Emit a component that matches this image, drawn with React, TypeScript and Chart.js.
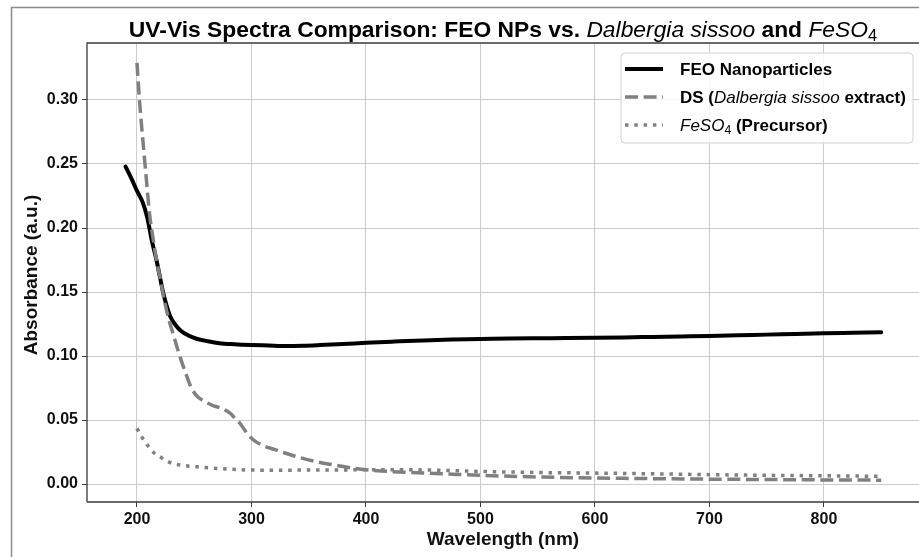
import React, { useEffect, useRef } from "react";
import { Chart, registerables } from "chart.js";

Chart.register(...registerables);

const W = 919;
const H = 557;
const FONT = '"Liberation Sans", Arial, Helvetica, sans-serif';

// ---- data ----
const feoWavelength = [190, 195, 200, 205, 209, 213, 217, 220, 223, 226, 229, 233, 238, 245, 252, 262, 272, 285, 300, 315, 330, 345, 360, 380, 400, 425, 450, 475, 500, 525, 550, 575, 600, 625, 650, 675, 700, 725, 750, 775, 800, 825, 850];
const feoAbsorbance = [0.248, 0.239, 0.229, 0.22, 0.208, 0.19, 0.175, 0.162, 0.149, 0.139, 0.131, 0.125, 0.12, 0.116, 0.1135, 0.1115, 0.110, 0.1092, 0.1086, 0.1082, 0.1078, 0.108, 0.1085, 0.1093, 0.1103, 0.1113, 0.1122, 0.1128, 0.1132, 0.1137, 0.1139, 0.114, 0.1142, 0.1145, 0.1149, 0.1153, 0.1157, 0.1162, 0.1167, 0.1172, 0.1177, 0.1181, 0.1185];

const dsWavelength = [200, 202, 204, 206, 208, 211, 214, 217, 220, 224, 228, 232, 237, 242, 247, 252, 258, 266, 274, 281, 286, 290, 295, 301, 310, 320, 330, 345, 360, 375, 390, 405, 420, 440, 460, 480, 500, 520, 550, 600, 650, 700, 750, 800, 850];
const dsAbsorbance = [0.329, 0.302, 0.28, 0.26, 0.24, 0.211, 0.192, 0.175, 0.162, 0.143, 0.128, 0.116, 0.101, 0.088, 0.076, 0.069, 0.065, 0.0615, 0.059, 0.0555, 0.051, 0.0474, 0.041, 0.035, 0.030, 0.027, 0.024, 0.020, 0.0168, 0.0145, 0.0122, 0.0108, 0.0098, 0.009, 0.0083, 0.0075, 0.0068, 0.0062, 0.0055, 0.0047, 0.0042, 0.0038, 0.0035, 0.0032, 0.003];

const feso4Wavelength = [200, 204, 208, 212, 216, 220, 226, 232, 240, 252, 270, 295, 320, 350, 380, 400, 430, 460, 500, 550, 600, 650, 700, 750, 800, 850];
const feso4Absorbance = [0.0435, 0.037, 0.0318, 0.027, 0.0235, 0.0213, 0.018, 0.0158, 0.0145, 0.0135, 0.0122, 0.011, 0.0108, 0.0109, 0.011, 0.0112, 0.0112, 0.0108, 0.0098, 0.009, 0.0085, 0.008, 0.0073, 0.0068, 0.0064, 0.006];

const xTicks = [200, 300, 400, 500, 600, 700, 800];
const yTicks = [0, 0.05, 0.1, 0.15, 0.2, 0.25, 0.3];

const seriesLabels = ["FEO Nanoparticles", "DS (Dalbergia sissoo extract)", "FeSO4 (Precursor)"];

type Seg = { text: string; style: string; sub?: boolean };

const titleSegs: Seg[] = [
  { text: "UV-Vis Spectra Comparison: FEO NPs vs. ", style: "bold" },
  { text: "Dalbergia sissoo", style: "italic" },
  { text: " and ", style: "bold" },
  { text: "FeSO", style: "italic" },
  { text: "4", style: "normal", sub: true },
];

const legendSegs: Seg[][] = [
  [{ text: "FEO Nanoparticles", style: "bold" }],
  [
    { text: "DS (", style: "bold" },
    { text: "Dalbergia sissoo", style: "italic" },
    { text: " extract)", style: "bold" },
  ],
  [
    { text: "FeSO", style: "italic" },
    { text: "4", style: "normal", sub: true },
    { text: " (Precursor)", style: "bold" },
  ],
];

function fontFor(seg: Seg, size: number) {
  const s = seg.sub ? size * 0.72 : size;
  return `${seg.style} ${s}px ${FONT}`;
}

function measureSegs(ctx: CanvasRenderingContext2D, segs: Seg[], size: number) {
  let w = 0;
  for (const seg of segs) {
    ctx.font = fontFor(seg, size);
    w += ctx.measureText(seg.text).width;
  }
  return w;
}

function drawSegs(ctx: CanvasRenderingContext2D, segs: Seg[], x: number, y: number, size: number, color: string) {
  ctx.fillStyle = color;
  ctx.textAlign = "left";
  ctx.textBaseline = "alphabetic";
  let cx = x;
  for (const seg of segs) {
    ctx.font = fontFor(seg, size);
    const dy = seg.sub ? size * 0.16 : 0;
    ctx.fillText(seg.text, cx, y + dy);
    cx += ctx.measureText(seg.text).width;
  }
}

const DS_DASH = [13, 5.6];
const DOT_DASH = [3.5, 5.8];

const customPlugin = {
  id: "customDecor",
  beforeDraw(chart: any) {
    const ctx: CanvasRenderingContext2D = chart.ctx;
    ctx.save();
    ctx.fillStyle = "#ffffff";
    ctx.fillRect(0, 0, W, H);
    // figure frame
    ctx.strokeStyle = "#8a8a8a";
    ctx.lineWidth = 1.5;
    ctx.beginPath();
    ctx.moveTo(11.5, H);
    ctx.lineTo(11.5, 7.5);
    ctx.lineTo(W, 7.5);
    ctx.stroke();
    ctx.restore();
  },
  afterDraw(chart: any) {
    const ctx: CanvasRenderingContext2D = chart.ctx;
    const a = chart.chartArea;
    ctx.save();
    // spines
    ctx.strokeStyle = "#3a3a3a";
    ctx.lineWidth = 1.3;
    ctx.beginPath();
    ctx.moveTo(a.left, a.bottom);
    ctx.lineTo(a.left, a.top);
    ctx.lineTo(a.right, a.top);
    ctx.moveTo(a.left, a.bottom);
    ctx.lineTo(a.right, a.bottom);
    ctx.stroke();

    // title
    const targetW = 749;
    const w20 = measureSegs(ctx, titleSegs, 20);
    const tSize = (20 * targetW) / w20;
    const tW = measureSegs(ctx, titleSegs, tSize);
    const cx = (a.left + a.right) / 2;
    drawSegs(ctx, titleSegs, cx - tW / 2, 37, tSize, "#000");

    // axis titles
    ctx.fillStyle = "#111";
    ctx.font = `bold 19px ${FONT}`;
    ctx.textAlign = "center";
    ctx.textBaseline = "middle";
    ctx.fillText("Wavelength (nm)", cx, 540);
    ctx.save();
    ctx.translate(32, 275);
    ctx.rotate(-Math.PI / 2);
    ctx.fillText("Absorbance (a.u.)", 0, 0);
    ctx.restore();

    // legend
    const lx = 621, ly = 53, lw = 292, lh = 90, r = 4;
    ctx.beginPath();
    ctx.moveTo(lx + r, ly);
    ctx.lineTo(lx + lw - r, ly);
    ctx.quadraticCurveTo(lx + lw, ly, lx + lw, ly + r);
    ctx.lineTo(lx + lw, ly + lh - r);
    ctx.quadraticCurveTo(lx + lw, ly + lh, lx + lw - r, ly + lh);
    ctx.lineTo(lx + r, ly + lh);
    ctx.quadraticCurveTo(lx, ly + lh, lx, ly + lh - r);
    ctx.lineTo(lx, ly + r);
    ctx.quadraticCurveTo(lx, ly, lx + r, ly);
    ctx.closePath();
    ctx.fillStyle = "rgba(255,255,255,0.82)";
    ctx.fill();
    ctx.strokeStyle = "#d2d2d2";
    ctx.lineWidth = 1;
    ctx.stroke();

    const rows = [69, 97, 125];
    const ds = chart.data.datasets;
    const order = [0, 1, 2];
    order.forEach((i) => {
      const d = ds[i];
      ctx.beginPath();
      ctx.strokeStyle = d.borderColor;
      ctx.lineWidth = d.borderWidth;
      ctx.setLineDash(d.borderDash || []);
      ctx.lineCap = "butt";
      ctx.moveTo(625, rows[i]);
      ctx.lineTo(663, rows[i]);
      ctx.stroke();
      ctx.setLineDash([]);
      drawSegs(ctx, legendSegs[i], 680, rows[i] + 6, 17, "#000");
    });
    ctx.restore();
  },
};

export default function App() {
  const ref = useRef<HTMLCanvasElement | null>(null);

  useEffect(() => {
    if (!ref.current) return;
    const toPts = (xs: number[], ys: number[]) => xs.map((x, i) => ({ x, y: ys[i] }));
    const chart = new Chart(ref.current, {
      type: "line",
      data: {
        datasets: [
          {
            label: seriesLabels[0],
            data: toPts(feoWavelength, feoAbsorbance),
            borderColor: "#000000",
            borderWidth: 4,
            pointRadius: 0,
            cubicInterpolationMode: "monotone",
            order: 3,
            borderCapStyle: "round",
          },
          {
            label: seriesLabels[1],
            data: toPts(dsWavelength, dsAbsorbance),
            borderColor: "#808080",
            borderWidth: 3.5,
            borderDash: DS_DASH,
            pointRadius: 0,
            cubicInterpolationMode: "monotone",
            order: 2,
          },
          {
            label: seriesLabels[2],
            data: toPts(feso4Wavelength, feso4Absorbance),
            borderColor: "#808080",
            borderWidth: 3.5,
            borderDash: DOT_DASH,
            pointRadius: 0,
            cubicInterpolationMode: "monotone",
            order: 1,
          },
        ] as any,
      },
      options: {
        responsive: false,
        animation: false,
        devicePixelRatio: 1,
        layout: { padding: { top: 43, left: 0, right: 0, bottom: 0 } },
        plugins: {
          legend: { display: false },
          title: { display: false },
          tooltip: { enabled: false },
        },
        scales: {
          x: {
            type: "linear",
            min: 156.35,
            max: 883,
            afterFit: (s: any) => {
              s.height = 55;
            },
            afterBuildTicks: (s: any) => {
              s.ticks = xTicks.map((v) => ({ value: v }));
            },
            ticks: {
              font: { family: FONT, size: 16, weight: "bold" },
              color: "#111",
              padding: 3,
              maxRotation: 0,
              autoSkip: false,
              callback: (v: any) => String(v),
            },
            grid: { color: "#cdcdcd", lineWidth: 1, tickColor: "#3a3a3a", tickLength: 5, drawTicks: true },
            border: { display: false },
          },
          y: {
            type: "linear",
            min: -0.01406,
            max: 0.34453,
            afterFit: (s: any) => {
              s.width = 87;
            },
            afterBuildTicks: (s: any) => {
              s.ticks = yTicks.map((v) => ({ value: v }));
            },
            ticks: {
              font: { family: FONT, size: 16, weight: "bold" },
              color: "#111",
              padding: 4,
              autoSkip: false,
              callback: (v: any) => Number(v).toFixed(2),
            },
            grid: { color: "#cdcdcd", lineWidth: 1, tickColor: "#3a3a3a", tickLength: 5, drawTicks: true },
            border: { display: false },
          },
        },
      } as any,
      plugins: [customPlugin],
    });
    return () => chart.destroy();
  }, []);

  return (
    <div style={{ position: "absolute", left: 0, top: 0, width: W, height: H, background: "#fff" }}>
      <canvas ref={ref} width={W} height={H} style={{ display: "block", width: W, height: H }} />
    </div>
  );
}
